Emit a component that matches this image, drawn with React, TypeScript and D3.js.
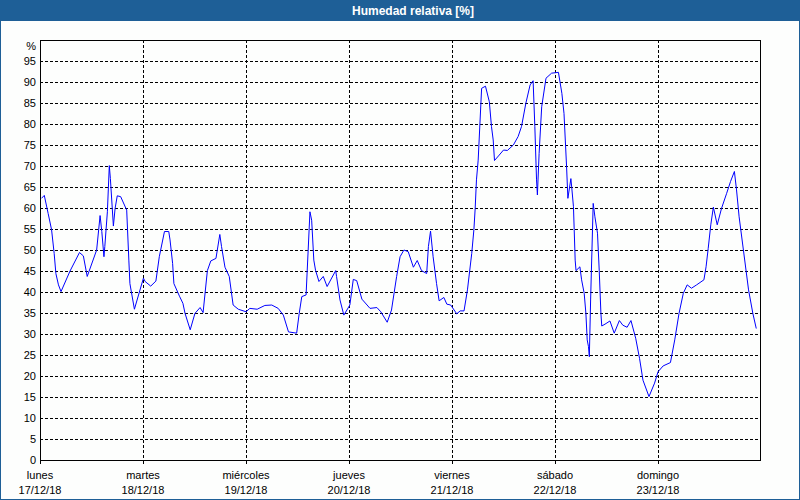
import { useRef, useEffect } from 'react';
import * as d3 from 'd3';

// hours since lunes 17/12/18 00:00, relative humidity in %
const hours = [
  0.35, 1.0, 1.9, 2.7, 3.3, 3.7, 4.3, 4.9, 7.0, 9.2, 10.1, 11.0, 13.2, 14.0, 14.4, 14.9, 15.1, 15.7, 16.15, 16.4,
  17.1, 17.5, 18.0, 18.8, 20.2, 20.7, 20.95, 22.0, 24.1, 24.5, 25.8, 27.0, 27.8, 29.0, 30.0, 30.3, 30.9, 31.2, 32.5, 33.3,
  33.8, 35.0, 36.1, 37.3, 38.0, 39.0, 39.8, 41.0, 41.9, 42.3, 43.1, 44.1, 45.0, 46.2, 48.0, 48.9, 50.6, 52.4, 54.0, 55.5,
  56.7, 57.9, 59.8, 60.4, 61.0, 62.0, 62.9, 63.3, 63.8, 64.2, 65.0, 66.0, 66.9, 68.9, 69.1, 69.9, 70.8, 72.2, 73.0, 73.8,
  75.0, 76.9, 78.5, 79.4, 80.9, 81.9, 83.1, 83.9, 84.8, 85.8, 87.0, 87.9, 88.9, 90.1, 90.5, 91.0, 91.6, 92.4, 93.0, 94.1,
  94.8, 95.7, 97.1, 97.9, 98.8, 99.6, 100.6, 101.1, 101.4, 101.7, 102.1, 102.9, 103.8, 104.7, 105.2, 105.6, 105.9, 107.0, 108.0, 108.9,
  110.3, 111.4, 112.2, 113.2, 114.2, 114.9, 115.3, 115.7, 115.9, 116.3, 116.9, 117.9, 119.2, 120.8, 121.6, 122.1, 122.7, 123.0, 123.7, 123.9,
  124.3, 124.7, 124.9, 125.8, 126.2, 126.8, 127.2, 127.5, 127.8, 128.0, 128.3, 128.9, 129.3, 129.9, 130.3, 130.7, 130.9, 131.9, 132.8, 133.8,
  135.0, 135.8, 136.8, 137.7, 138.8, 139.7, 140.5, 141.9, 143.2, 144.0, 145.2, 146.9, 147.9, 148.9, 149.9, 150.8, 151.8, 153.0, 154.7, 155.2,
  155.7, 156.3, 156.9, 157.8, 158.8, 160.0, 160.9, 161.8, 162.3, 162.9, 163.9, 165.1, 166.1, 166.9,
];
const humedad = [
  62.3, 63.0, 58.7, 54.8, 49.2, 44.4, 41.7, 40.1, 45.0, 49.4, 48.6, 43.7, 50.0, 58.2, 54.4, 48.4, 50.8, 59.1, 70.1, 67.0,
  55.7, 59.9, 62.9, 62.7, 59.5, 47.6, 42.0, 35.9, 43.3, 42.5, 41.4, 42.6, 48.4, 54.4, 54.4, 52.4, 46.8, 42.0, 39.0, 37.3,
  34.9, 31.0, 34.9, 36.3, 35.1, 45.1, 47.4, 48.0, 53.7, 50.8, 45.9, 43.7, 36.9, 35.9, 35.3, 36.1, 35.9, 36.8, 36.9, 36.1,
  34.5, 30.5, 30.2, 34.9, 38.9, 39.3, 59.1, 57.1, 47.6, 45.2, 42.5, 43.7, 41.3, 45.1, 43.7, 38.1, 34.5, 36.9, 43.0, 42.7,
  38.3, 36.1, 36.3, 35.3, 32.8, 35.7, 43.7, 48.4, 50.0, 49.6, 45.9, 47.5, 45.1, 44.4, 50.8, 54.5, 48.4, 42.0, 37.9, 38.7,
  37.1, 36.9, 34.8, 35.5, 35.5, 40.5, 49.2, 54.8, 59.9, 66.7, 71.4, 88.5, 89.0, 85.3, 79.4, 76.2, 71.3, 72.6, 73.8, 73.7,
  75.0, 77.0, 79.4, 84.9, 89.3, 90.3, 79.4, 66.7, 63.1, 73.0, 84.1, 90.9, 92.1, 92.3, 87.3, 82.5, 69.8, 62.3, 67.0, 64.9,
  60.3, 47.6, 45.1, 46.0, 42.9, 39.7, 34.9, 28.6, 27.0, 24.6, 38.1, 61.1, 57.9, 54.0, 45.2, 34.9, 31.9, 32.5, 33.1, 30.2,
  33.2, 32.1, 31.6, 33.2, 29.0, 24.2, 19.0, 15.1, 18.3, 21.0, 22.4, 23.2, 28.6, 34.9, 39.7, 41.7, 40.9, 41.7, 42.9, 46.0,
  50.4, 56.0, 60.2, 56.0, 59.9, 63.5, 66.3, 68.7, 64.3, 57.9, 50.0, 40.5, 34.9, 31.3,
];

const dayNames = ['lunes', 'martes', 'miércoles', 'jueves', 'viernes', 'sábado', 'domingo'];
const dayDates = ['17/12/18', '18/12/18', '19/12/18', '20/12/18', '21/12/18', '22/12/18', '23/12/18'];
const yTicks = [0, 5, 10, 15, 20, 25, 30, 35, 40, 45, 50, 55, 60, 65, 70, 75, 80, 85, 90, 95];

const W = 800;
const H = 500;
const BLUE = '#1e5f97';
const FONT = '"Liberation Sans", Arial, sans-serif';

export default function App() {
  const svgRef = useRef<SVGSVGElement>(null);

  useEffect(() => {
    const svg = d3.select(svgRef.current);
    svg.selectAll('*').remove();

    const left = 40, right = 761, top = 40, bottom = 460;
    const x = d3.scaleLinear().domain([0, 168]).range([left, right]);
    const y = d3.scaleLinear().domain([0, 100]).range([bottom, top]);

    // frame + title bar
    svg.append('rect').attr('x', 0).attr('y', 0).attr('width', W).attr('height', H).attr('fill', '#fdfefd');
    svg.append('rect').attr('x', 0.5).attr('y', 0.5).attr('width', W - 1).attr('height', H - 1)
      .attr('fill', 'none').attr('stroke', BLUE).attr('stroke-width', 1);
    svg.append('rect').attr('x', 0).attr('y', 0).attr('width', W).attr('height', 21).attr('fill', BLUE);
    svg.append('text').attr('x', 413).attr('y', 15).attr('text-anchor', 'middle')
      .attr('fill', '#fff').attr('font-family', FONT).attr('font-weight', 'bold').attr('font-size', 12)
      .text('Humedad relativa [%]');

    const g = svg.append('g').attr('shape-rendering', 'crispEdges');

    // horizontal grid
    yTicks.filter(t => t > 0).forEach(t => {
      const yy = Math.round(y(t)) + 0.5;
      g.append('line').attr('x1', left).attr('x2', right).attr('y1', yy).attr('y2', yy)
        .attr('stroke', '#000').attr('stroke-dasharray', '3,2');
    });
    // vertical grid + ticks
    dayNames.forEach((_, i) => {
      const xx = Math.round(x(i * 24)) + 0.5;
      if (i > 0) {
        g.append('line').attr('x1', xx).attr('x2', xx).attr('y1', top).attr('y2', bottom)
          .attr('stroke', '#000').attr('stroke-dasharray', '3,2');
      }
      g.append('line').attr('x1', xx).attr('x2', xx).attr('y1', bottom).attr('y2', bottom + 4)
        .attr('stroke', '#000');
    });

    // plot frame
    g.append('rect').attr('x', left + 0.5).attr('y', top + 0.5)
      .attr('width', right - left - 1).attr('height', bottom - top)
      .attr('fill', 'none').attr('stroke', '#000');

    // y labels
    yTicks.forEach(t => {
      svg.append('text').attr('x', 36).attr('y', y(t)).attr('dy', '0.36em')
        .attr('text-anchor', 'end').attr('font-family', FONT).attr('font-size', 11).attr('fill', '#000')
        .text(t);
    });
    svg.append('text').attr('x', 36).attr('y', 46).attr('dy', '0.36em')
      .attr('text-anchor', 'end').attr('font-family', FONT).attr('font-size', 11).attr('fill', '#000')
      .text('%');

    // x labels
    dayNames.forEach((d, i) => {
      const xx = x(i * 24);
      svg.append('text').attr('x', xx).attr('y', 479).attr('text-anchor', 'middle')
        .attr('font-family', FONT).attr('font-size', 11).attr('fill', '#000').text(d);
      svg.append('text').attr('x', xx).attr('y', 494).attr('text-anchor', 'middle')
        .attr('font-family', FONT).attr('font-size', 11).attr('fill', '#000').text(dayDates[i]);
    });

    // series
    const pts = hours.map((h, i) => [h, humedad[i]] as [number, number]);
    const line = d3.line<[number, number]>().x(d => x(d[0])).y(d => y(d[1]));
    svg.append('path').datum(pts).attr('d', line).attr('fill', 'none')
      .attr('stroke', '#0000ff').attr('stroke-width', 1);
  }, []);

  return (
    <div style={{ position: 'absolute', left: 0, top: 0, width: W, height: H }}>
      <svg ref={svgRef} width={W} height={H} style={{ display: 'block' }} />
    </div>
  );
}
